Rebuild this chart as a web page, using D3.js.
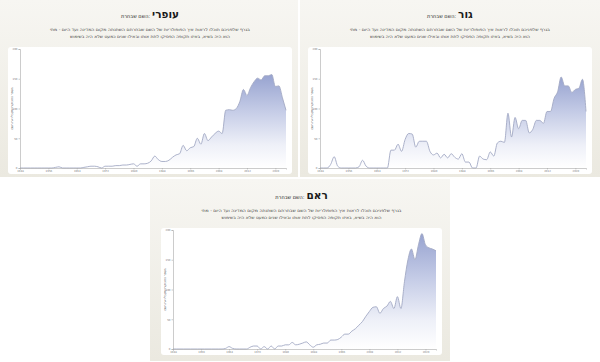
<!DOCTYPE html>
<html>
<head>
<meta charset="utf-8">
<script src="https://cdn.jsdelivr.net/npm/d3@7"></script>
<style>
  body { margin: 0; background: #ffffff; }
  svg { display: block; }
</style>
</head>
<body>
<div id="chart"></div>
<script>
// שנים (ציר X)
const years = d3.range(1948, 2024);

// מספר התינוקות לפי שנה, לכל שם
const ofriValues = [
  0, 0, 0, 0, 0, 0, 0, 0, 0, 0,
  1, 2, 0, 0, 0, 0, 0, 0, 1, 2,
  3, 3, 2, 0, 3, 3, 3, 4, 4, 5,
  5, 6, 7, 3, 7, 7, 8, 12, 20, 14,
  11, 11, 13, 18, 22, 24, 38, 29, 34, 36,
  50, 40, 58, 46, 52, 58, 62, 58, 97, 98,
  97, 100, 112, 132, 122, 135, 145, 151, 148, 155,
  155, 157, 137, 138, 118, 97
];
const gurValues = [
  0, 0, 0, 6, 19, 3, 0, 0, 0, 0,
  0, 2, 13, 3, 0, 0, 0, 0, 0, 0,
  30, 30, 40, 28, 48, 58, 57, 35, 45, 45,
  45, 28, 22, 25, 17, 23, 17, 24, 18, 15,
  24, 10, 10, 0, 0, 20, 15, 14, 27, 20,
  42, 45, 43, 92, 52, 85, 66, 80, 80, 59,
  65, 80, 80, 75, 95, 95, 117, 128, 153, 138,
  138, 127, 132, 134, 149, 95
];
const reemValues = [
  0, 0, 0, 0, 0, 0, 0, 0, 0, 0,
  0, 0, 0, 0, 0, 1, 4, 1, 0, 0,
  0, 0, 3, 5, 5, 0, 4, 0, 5, 0,
  5, 5, 7, 7, 11, 7, 8, 10, 12, 7,
  3, 7, 8, 10, 10, 15, 15, 16, 20, 25,
  25, 30, 34, 40, 46, 55, 63, 70, 71, 60,
  68, 72, 80, 68, 88, 68, 113, 150, 168, 150,
  175, 194, 175, 170, 168, 165
];

const names = ["עופרי", "גור", "ראם"];
const xTickValues = [1948, 1956, 1964, 1972, 1980, 1988, 1996, 2004, 2012, 2020];
const yTickValues = [0, 50, 100, 150, 200];

const titlePrefix = "השם שבחרת";
const subtitleLines = [
  "בגרף שלפניכם תוכלו לראות איך הפופולריות של השם שבחרתם השתנתה מקום המדינה ועד היום - מתי",
  "הוא היה בשיא, באיזו תקופה הפסיקו לתת אותו ובאילו שנים כמעט שלא היה בשימוש"
];
const yAxisLabel = "מספר התינוקות שקיבלו את השם";

// ──────────── מיקום הפאנלים ─────────────
const width = 600;
const height = 362;

const panels = [
  { name: names[0], values: ofriValues, x: 0,   y: 0,   w: 298, h: 177, cx: 8,  cy: 47, cw: 284, ch: 127 },
  { name: names[1], values: gurValues,  x: 300, y: 0,   w: 300, h: 177, cx: 8,  cy: 47, cw: 284, ch: 127 },
  { name: names[2], values: reemValues, x: 150, y: 179, w: 300, h: 182, cx: 11, cy: 49, cw: 281, ch: 127 }
];

const svg = d3.select("#chart")
  .append("svg")
  .attr("width", width)
  .attr("height", height);

const defs = svg.append("defs");

const bgGrad = defs.append("linearGradient")
  .attr("id", "panelBg")
  .attr("x1", 0).attr("y1", 0).attr("x2", 0).attr("y2", 1);
bgGrad.append("stop").attr("offset", "0%").attr("stop-color", "#f7f6f2");
bgGrad.append("stop").attr("offset", "100%").attr("stop-color", "#ebe9e0");

const areaGrad = defs.append("linearGradient")
  .attr("id", "areaFill")
  .attr("x1", 0).attr("y1", 0).attr("x2", 0).attr("y2", 1);
areaGrad.append("stop").attr("offset", "0%").attr("stop-color", "#97a3d0");
areaGrad.append("stop").attr("offset", "40%").attr("stop-color", "#c6cde7");
areaGrad.append("stop").attr("offset", "75%").attr("stop-color", "#eef0f8");
areaGrad.append("stop").attr("offset", "100%").attr("stop-color", "#ffffff");

const fontFamily = "'DejaVu Sans', 'Liberation Sans', sans-serif";

panels.forEach(p => {
  const g = svg.append("g").attr("transform", `translate(${p.x},${p.y})`);

  // רקע בז'
  g.append("rect")
    .attr("width", p.w)
    .attr("height", p.h)
    .attr("fill", "url(#panelBg)");

  const mid = p.cx + p.cw / 2;
  const titleY = p.cy - 29;

  // כותרת: "השם שבחרת:" משמאל, השם בהדגשה מימין
  const parts = [
    { text: titlePrefix, size: 5, weight: "normal", gapAfter: 0 },
    { text: ":", size: 5, weight: "normal", gapAfter: 1.6 },
    { text: p.name, size: 10.5, weight: "bold", gapAfter: 0 }
  ];
  const nodes = parts.map(t => g.append("text")
    .attr("x", 0)
    .attr("y", titleY)
    .attr("font-family", fontFamily)
    .attr("font-size", t.size + "px")
    .attr("font-weight", t.weight)
    .attr("fill", "#1a1a1a")
    .text(t.text));
  const boxes = nodes.map(n => n.node().getBBox());
  const total = d3.sum(boxes, b => b.width) + d3.sum(parts, t => t.gapAfter);
  let cursor = mid - total / 2;
  nodes.forEach((n, i) => {
    n.attr("transform", `translate(${cursor - boxes[i].x},0)`);
    cursor += boxes[i].width + parts[i].gapAfter;
  });

  // תת-כותרת
  subtitleLines.forEach((line, i) => {
    g.append("text")
      .attr("x", mid)
      .attr("y", p.cy - 16 + i * 6.5)
      .attr("text-anchor", "middle")
      .attr("direction", "rtl")
      .attr("font-family", fontFamily)
      .attr("font-size", "4px")
      .attr("fill", "#444")
      .attr("textLength", i === 0 ? 200 : 160)
      .attr("lengthAdjust", "spacingAndGlyphs")
      .text(line);
  });

  // כרטיס לבן
  g.append("rect")
    .attr("x", p.cx)
    .attr("y", p.cy)
    .attr("width", p.cw)
    .attr("height", p.ch)
    .attr("rx", 3)
    .attr("fill", "#ffffff");

  // סקאלות
  const x = d3.scaleLinear()
    .domain([1948, 2023])
    .range([p.cx + 12, p.cx + p.cw - 6]);
  const y = d3.scaleLinear()
    .domain([0, 200])
    .range([p.cy + p.ch - 6, p.cy + 2]);

  const data = years.map((yr, i) => ({ year: yr, value: p.values[i] }));

  const area = d3.area()
    .x(d => x(d.year))
    .y0(y(0))
    .y1(d => y(d.value))
    .curve(d3.curveMonotoneX);

  const line = d3.line()
    .x(d => x(d.year))
    .y(d => y(d.value))
    .curve(d3.curveMonotoneX);

  g.append("path")
    .datum(data)
    .attr("d", area)
    .attr("fill", "url(#areaFill)");

  g.append("path")
    .datum(data)
    .attr("d", line)
    .attr("fill", "none")
    .attr("stroke", "#a3a9c4")
    .attr("stroke-width", 0.9);

  // צירים
  const xAxis = g.append("g")
    .attr("transform", `translate(0,${y(0)})`)
    .call(d3.axisBottom(x).tickValues(xTickValues).tickFormat(d3.format("d")).tickSize(1.5).tickPadding(1));
  const yAxis = g.append("g")
    .attr("transform", `translate(${x(1948)},0)`)
    .call(d3.axisLeft(y).tickValues(yTickValues).tickSize(1.5).tickPadding(1));

  [xAxis, yAxis].forEach(ax => {
    ax.select(".domain").attr("stroke", "#aaa").attr("stroke-width", 0.6);
    ax.selectAll(".tick line").attr("stroke", "#aaa").attr("stroke-width", 0.6);
    ax.selectAll(".tick text")
      .attr("font-size", "2.6px")
      .attr("font-family", fontFamily)
      .attr("fill", "#777");
  });

  // כותרת ציר Y
  g.append("text")
    .attr("transform", `translate(${p.cx + 5},${(y(0) + y(200)) / 2}) rotate(-90)`)
    .attr("text-anchor", "middle")
    .attr("direction", "rtl")
    .attr("font-family", fontFamily)
    .attr("font-size", "3px")
    .attr("fill", "#444")
    .text(yAxisLabel);
});
</script>
</body>
</html>
